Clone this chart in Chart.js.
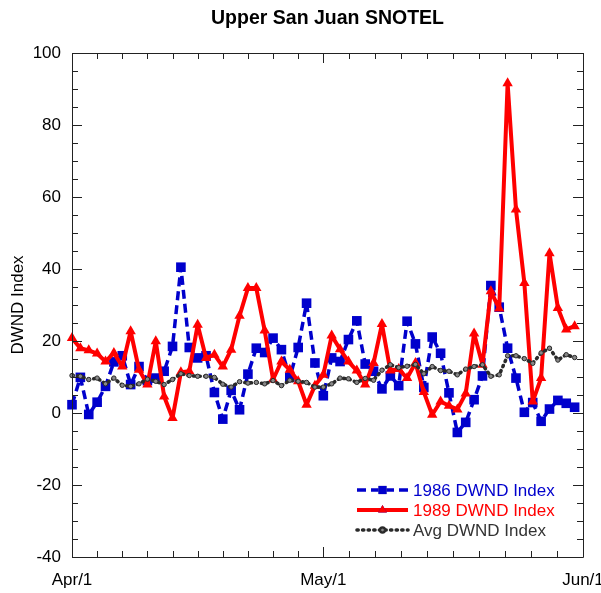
<!DOCTYPE html>
<html><head><meta charset="utf-8">
<script src="https://cdn.jsdelivr.net/npm/chart.js@4/dist/chart.umd.min.js"></script>
<style>html,body{margin:0;padding:0;background:#fff}</style>
</head><body>
<canvas id="c" width="601" height="593"></canvas>
<script>
// ---- data ----
const xTickDays = [0, 30, 61];
const xTickLabels = ['Apr/1', 'May/1', 'Jun/1'];
const yTickStep = 20;
const seriesNames = ['1986 DWND Index', '1989 DWND Index', 'Avg DWND Index'];
const dwnd1986 = [2.3, 9.9, -0.4, 3.0, 7.4, 14.2, 15.9, 7.9, 12.9, 9.0,
  9.7, 11.6, 18.5, 40.5, 18.2, 15.3, 15.9, 5.7, -1.7, 6.3,
  0.9, 10.8, 18.0, 16.8, 20.8, 17.6, 9.9, 18.2, 30.5, 13.9,
  4.8, 15.3, 14.3, 20.4, 25.6, 13.6, 11.6, 6.7, 10.3, 7.6,
  25.5, 19.2, 7.1, 21.1, 16.6, 5.6, -5.4, -2.6, 3.7, 10.3,
  35.4, 29.4, 18.0, 9.7, 0.2, 2.9, -2.3, 1.1, 3.5, 2.7, 1.6];
const dwnd1989 = [20.8, 18.0, 17.4, 16.5, 14.3, 16.7, 12.9, 22.7, 12.0, 7.9,
  19.9, 4.6, -1.4, 11.3, 11.6, 24.5, 15.3, 16.2, 12.9, 17.6,
  27.0, 34.7, 34.7, 22.9, 9.3, 14.3, 12.0, 8.8, 2.3, 7.6,
  10.6, 21.5, 17.7, 14.3, 11.8, 7.9, 13.9, 24.7, 11.8, 12.2,
  9.7, 13.9, 5.8, -0.5, 3.2, 2.0, 1.0, 5.4, 22.1, 13.4,
  33.8, 29.0, 91.6, 56.5, 36.1, 3.2, 9.7, 44.4, 29.2, 23.2, 24.1];
const dwndAvg = [10.4, 10.2, 9.3, 9.7, 8.1, 9.7, 7.7, 7.4, 8.1, 9.4,
  8.8, 7.9, 9.3, 10.9, 10.4, 10.2, 10.2, 9.9, 8.0, 7.2,
  8.7, 8.3, 8.5, 8.1, 9.0, 7.6, 9.1, 8.8, 8.5, 7.2,
  7.2, 8.1, 9.7, 9.5, 8.5, 9.6, 9.1, 11.9, 13.4, 12.6,
  13.0, 13.5, 10.9, 12.9, 11.8, 11.6, 10.6, 12.2, 12.9, 13.4,
  10.2, 10.6, 15.9, 15.9, 15.1, 13.8, 16.7, 18.0, 14.7, 16.2, 15.4];

// ---- styles ----
const FONT = "'Liberation Sans', Arial, Helvetica, sans-serif";
const BLUE = '#0000CC', RED = '#FF0000', GRAY = '#2a2a2a';
Chart.defaults.font.family = FONT;

const toPts = arr => arr.map((v, i) => ({x: i, y: v}));

const frameTicks = {
  id: 'frameTicks',
  afterDatasetsDraw(chart) {
    const {ctx, chartArea: a, scales: {x, y}} = chart;
    ctx.save();
    ctx.strokeStyle = '#222';
    ctx.lineWidth = 1;
    ctx.beginPath();
    ctx.rect(Math.round(a.left) + 0.5, Math.round(a.top) + 0.5, Math.round(a.right - a.left), Math.round(a.bottom - a.top));
    ctx.stroke();
    ctx.beginPath();
    for (let v = y.min; v <= y.max + 1e-9; v += 5) {
      const py = Math.round(y.getPixelForValue(v)) + 0.5;
      const len = (v % 20 === 0) ? 10 : 6;
      ctx.moveTo(a.left, py); ctx.lineTo(a.left + len, py);
      ctx.moveTo(a.right, py); ctx.lineTo(a.right - len, py);
    }
    for (let m = 0; m < xTickDays.length - 1; m++) {
      const d0 = xTickDays[m], d1 = xTickDays[m + 1];
      for (let k = 0; k <= 10; k++) {
        const d = d0 + (d1 - d0) * k / 10;
        const px = Math.round(x.getPixelForValue(d)) + 0.5;
        const len = (k === 0 || k === 10) ? 10 : 6;
        ctx.moveTo(px, a.bottom); ctx.lineTo(px, a.bottom - len);
        ctx.moveTo(px, a.top); ctx.lineTo(px, a.top + len);
      }
    }
    ctx.stroke();
    ctx.restore();
  }
};

const insideLegend = {
  id: 'insideLegend',
  afterDraw(chart) {
    const {ctx} = chart;
    const ds = chart.data.datasets;
    const x0 = 357, x1 = 408, tx = 413;
    const rows = [490, 510, 530];
    ctx.save();
    ds.forEach((d, i) => {
      const yy = rows[i];
      ctx.beginPath();
      ctx.setLineDash(d.borderDash || []);
      ctx.lineCap = d.borderCapStyle || 'butt';
      ctx.lineWidth = d.borderWidth;
      ctx.strokeStyle = d.borderColor;
      ctx.moveTo(x0, yy); ctx.lineTo(x1, yy);
      ctx.stroke();
      ctx.setLineDash([]);
      ctx.lineCap = 'butt';
      Chart.helpers.drawPoint(ctx, {
        pointStyle: d.pointStyle, radius: d.pointRadius * 0.85, rotation: 0,
        borderWidth: d.pointBorderWidth
      }, (x0 + x1) / 2, yy);
      ctx.fillStyle = d.pointBackgroundColor;
      ctx.strokeStyle = d.pointBorderColor;
      ctx.lineWidth = d.pointBorderWidth || 1;
      ctx.fill(); if (d.pointBorderWidth) ctx.stroke();
      ctx.fillStyle = d.legendColor;
      ctx.font = '17px ' + FONT;
      ctx.textBaseline = 'middle';
      ctx.textAlign = 'left';
      ctx.fillText(seriesNames[i], tx, yy + 1);
    });
    ctx.restore();
  }
};

new Chart(document.getElementById('c'), {
  type: 'line',
  data: {
    datasets: [
      {
        label: seriesNames[0], data: toPts(dwnd1986), order: 3,
        borderColor: BLUE, borderWidth: 3.5, borderDash: [9, 5], borderJoinStyle: 'round',
        pointStyle: 'rect', pointRadius: 6.8, pointBackgroundColor: BLUE,
        pointBorderColor: BLUE, pointBorderWidth: 0, legendColor: BLUE,
        clip: false, tension: 0
      },
      {
        label: seriesNames[1], data: toPts(dwnd1989), order: 2,
        borderColor: RED, borderWidth: 4, borderJoinStyle: 'round',
        pointStyle: 'triangle', pointRadius: 6, pointBackgroundColor: RED,
        pointBorderColor: RED, pointBorderWidth: 0, legendColor: RED,
        clip: false, tension: 0
      },
      {
        label: seriesNames[2], data: toPts(dwndAvg), order: 1,
        borderColor: GRAY, borderWidth: 3.6, borderDash: [1.2, 4.4],
        borderCapStyle: 'round', borderJoinStyle: 'round',
        pointStyle: 'circle', pointRadius: 2.2, pointBackgroundColor: '#888',
        pointBorderColor: GRAY, pointBorderWidth: 1, legendColor: '#333333',
        clip: false, tension: 0
      }
    ]
  },
  options: {
    responsive: false, animation: false, devicePixelRatio: 1,
    layout: {padding: {left: 0, right: 18, top: 0, bottom: 0}},
    plugins: {
      legend: {display: false},
      tooltip: {enabled: false},
      title: {
        display: true, text: 'Upper San Juan SNOTEL', fullSize: false,
        color: '#000', font: {size: 19.5, weight: 'bold', family: FONT},
        padding: {top: 7, bottom: 22.6}
      }
    },
    scales: {
      x: {
        type: 'linear', min: 0, max: 61,
        grid: {display: false, drawTicks: false}, border: {display: false},
        ticks: {
          color: '#000', font: {size: 17, family: FONT}, padding: 13,
          maxRotation: 0, autoSkip: false,
          callback: v => { const i = xTickDays.indexOf(v); return i >= 0 ? xTickLabels[i] : ''; }
        },
        afterBuildTicks: s => { s.ticks = xTickDays.map(v => ({value: v})); },
        afterFit: s => { s.height = 36; s.paddingLeft = 0; s.paddingRight = 0; }
      },
      y: {
        min: -40, max: 100,
        grid: {display: false, drawTicks: false}, border: {display: false},
        ticks: {stepSize: yTickStep, color: '#000', font: {size: 17, family: FONT}, padding: 11},
        title: {display: true, text: 'DWND Index', color: '#000', font: {size: 17, family: FONT}, padding: {top: 8, bottom: 0}},
        afterFit: s => { s.width = 72; s.paddingTop = 0; s.paddingBottom = 0; }
      }
    }
  },
  plugins: [frameTicks, insideLegend]
});
</script>
</body></html>
